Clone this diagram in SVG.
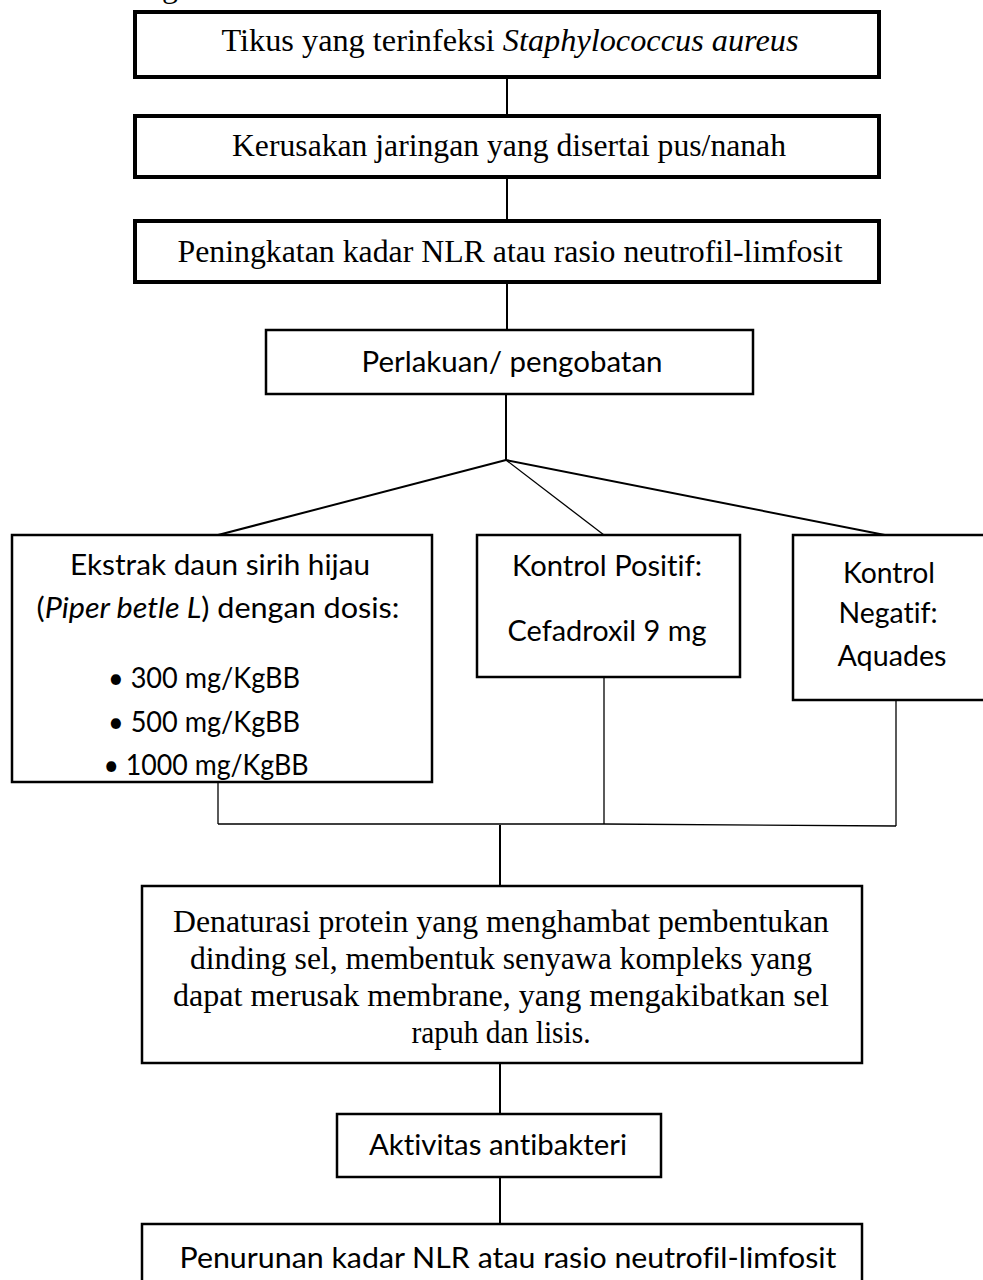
<svg xmlns="http://www.w3.org/2000/svg" width="983" height="1280" viewBox="0 0 983 1280">
<style>
.bg{fill:#fff}
.thick{fill:#fff;stroke:#000;stroke-width:4}
.box{fill:#fff;stroke:#000;stroke-width:2.5}
.ln{stroke:#000;stroke-width:2;fill:none}
.thin{stroke:#000;stroke-width:1.3;fill:none}
.serif{font-family:"Liberation Serif","Times New Roman",serif;font-size:32px;fill:#000;text-anchor:middle}
.sans{font-family:Lato,"Open Sans",sans-serif;font-size:28px;fill:#000;text-anchor:middle;font-variant-ligatures:none}
.it{font-style:italic}
</style>
<rect class="bg" x="0" y="0" width="983" height="1280"/>
<text class="serif" x="170" y="-3">g</text>
<g id="connectors">
<line class="ln" x1="507" y1="77" x2="507" y2="116"/>
<line class="ln" x1="507" y1="177" x2="507" y2="221"/>
<line class="ln" x1="507" y1="282" x2="507" y2="330"/>
<line class="ln" x1="506" y1="394" x2="506" y2="460"/>
<line class="ln" x1="506" y1="460" x2="218" y2="535"/>
<line class="thin" x1="506" y1="460" x2="604" y2="535"/>
<line class="ln" x1="506" y1="460" x2="895" y2="537"/>
<line class="thin" x1="218" y1="782" x2="218" y2="824"/>
<line class="thin" x1="604" y1="677" x2="604" y2="824"/>
<line class="thin" x1="896" y1="700" x2="896" y2="826"/>
<polyline class="thin" points="218,824 604,824 896,826"/>
<line class="ln" x1="500" y1="825" x2="500" y2="886"/>
<line class="ln" x1="500" y1="1063" x2="500" y2="1114"/>
<line class="ln" x1="500" y1="1177" x2="500" y2="1224"/>
</g>
<g id="n1">
<rect class="thick" x="135" y="12" width="744" height="65"/>
<text class="serif" x="510" y="51" textLength="577" lengthAdjust="spacingAndGlyphs">Tikus yang terinfeksi  <tspan class="it">Staphylococcus aureus</tspan></text>
</g>
<g id="n2">
<rect class="thick" x="135" y="116" width="744" height="61"/>
<text class="serif" x="509" y="156" textLength="554" lengthAdjust="spacingAndGlyphs">Kerusakan jaringan yang disertai pus/nanah</text>
</g>
<g id="n3">
<rect class="thick" x="135" y="221" width="744" height="61"/>
<text class="serif" x="510" y="262" textLength="665" lengthAdjust="spacingAndGlyphs">Peningkatan kadar NLR atau rasio neutrofil-limfosit</text>
</g>
<g id="n4">
<rect class="box" x="266" y="330" width="487" height="64"/>
<text class="sans" x="512" y="372" textLength="301" lengthAdjust="spacingAndGlyphs">Perlakuan/ pengobatan</text>
</g>
<g id="n5">
<rect class="box" x="12" y="535" width="420" height="247"/>
<text class="sans" x="220" y="575" textLength="300" lengthAdjust="spacingAndGlyphs">Ekstrak daun sirih hijau</text>
<text class="sans" x="218" y="618" textLength="363" lengthAdjust="spacingAndGlyphs">(<tspan class="it">Piper betle L</tspan>) dengan dosis:</text>
<text class="sans" x="204" y="688" textLength="192" lengthAdjust="spacingAndGlyphs">• 300 mg/KgBB</text>
<text class="sans" x="204" y="732" textLength="192" lengthAdjust="spacingAndGlyphs">• 500 mg/KgBB</text>
<text class="sans" x="206" y="775" textLength="205" lengthAdjust="spacingAndGlyphs">• 1000 mg/KgBB</text>
</g>
<g id="n6">
<rect class="box" x="477" y="535" width="263" height="142"/>
<text class="sans" x="607" y="576" textLength="190" lengthAdjust="spacingAndGlyphs">Kontrol Positif:</text>
<text class="sans" x="607" y="641" textLength="199" lengthAdjust="spacingAndGlyphs">Cefadroxil 9 mg</text>
</g>
<g id="n7">
<rect class="box" x="793" y="535" width="195" height="165"/>
<text class="sans" x="889" y="583" textLength="92" lengthAdjust="spacingAndGlyphs">Kontrol</text>
<text class="sans" x="888" y="623" textLength="99" lengthAdjust="spacingAndGlyphs">Negatif:</text>
<text class="sans" x="892" y="666" textLength="109" lengthAdjust="spacingAndGlyphs">Aquades</text>
</g>
<g id="n8">
<rect class="box" x="142" y="886" width="720" height="177"/>
<text class="serif" x="501" y="932" textLength="656" lengthAdjust="spacingAndGlyphs">Denaturasi protein yang menghambat pembentukan</text>
<text class="serif" x="501" y="969" textLength="622" lengthAdjust="spacingAndGlyphs">dinding sel, membentuk senyawa kompleks yang</text>
<text class="serif" x="501" y="1006" textLength="656" lengthAdjust="spacingAndGlyphs">dapat merusak membrane, yang mengakibatkan sel</text>
<text class="serif" x="501" y="1043" textLength="179" lengthAdjust="spacingAndGlyphs">rapuh dan lisis.</text>
</g>
<g id="n9">
<rect class="box" x="337" y="1114" width="324" height="63"/>
<text class="sans" x="498" y="1155" textLength="258" lengthAdjust="spacingAndGlyphs">Aktivitas antibakteri</text>
</g>
<g id="n10">
<rect class="box" x="142" y="1224" width="720" height="70"/>
<text class="sans" x="508" y="1268" textLength="657" lengthAdjust="spacingAndGlyphs">Penurunan kadar NLR atau rasio neutrofil-limfosit</text>
</g>
</svg>
